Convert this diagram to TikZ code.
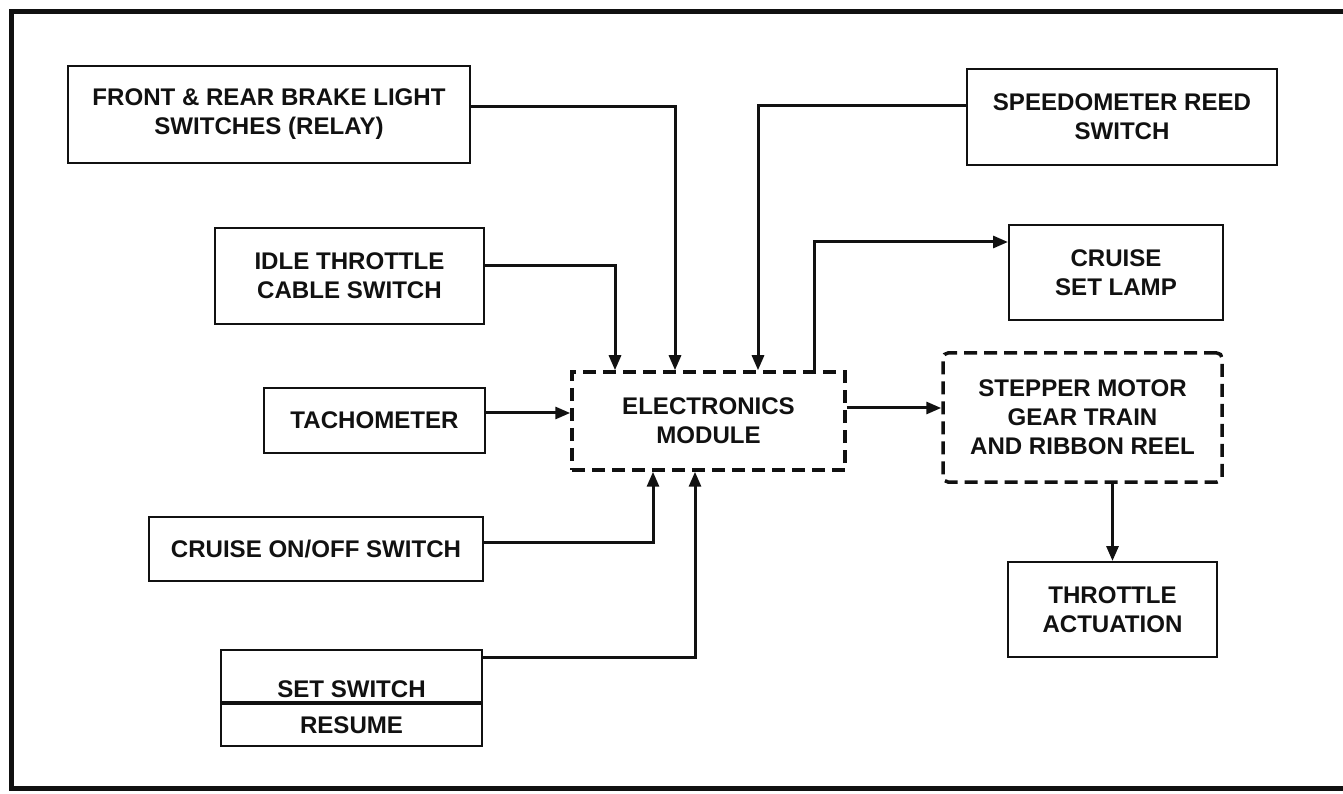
\documentclass[tikz,border=0pt]{standalone}
\usepackage{fontspec}
\setmainfont{Liberation Sans}
\definecolor{inkcol}{HTML}{111111}
\usetikzlibrary{arrows.meta,positioning}

\tikzset{
  blockbox/.style={draw=inkcol, text=inkcol, line width=0.4mm, align=center, inner sep=0pt,
    font=\bfseries\fontsize{13.7}{16.5}\selectfont},
  dashbox/.style={blockbox, line width=0.7mm, dash pattern=on 2.6mm off 1.4mm},
  wire/.style={inkcol, line width=0.6mm, -{Triangle[length=3mm,width=2.4mm]}},
}

\begin{document}
\begin{tikzpicture}
\useasboundingbox (0,0) rectangle (26.86,-15.88);

% === FRAME ===
\draw[inkcol, line width=1mm] (26.86,-0.24) -- (0.22,-0.24) -- (0.22,-15.76) -- (26.86,-15.76);

% === INPUTS ===
\node[blockbox, minimum width=8.04cm, minimum height=1.94cm] (brake) at (5.38,-2.29)
  {FRONT \& REAR BRAKE LIGHT\\SWITCHES (RELAY)};
\node[blockbox, minimum width=6.2cm, minimum height=1.92cm] (speedo) at (22.44,-2.34)
  {SPEEDOMETER REED\\SWITCH};
\node[blockbox, minimum width=5.38cm, minimum height=1.92cm] (idle) at (6.99,-5.52)
  {IDLE THROTTLE\\CABLE SWITCH};
\node[blockbox, minimum width=4.42cm, minimum height=1.3cm] (tacho) at (7.49,-8.41)
  {TACHOMETER};
\node[blockbox, minimum width=6.68cm, minimum height=1.28cm] (onoff) at (6.32,-10.98)
  {CRUISE ON/OFF SWITCH};
\node[blockbox, minimum width=5.22cm, minimum height=1.04cm, text height=0.9cm, text depth=0.06cm]
  (setsw) at (7.03,-13.52) {SET SWITCH};
\node[blockbox, minimum width=5.22cm, minimum height=0.84cm, below=0pt of setsw] (resume)
  {RESUME};

% === MODULE AND OUTPUTS ===
\node[dashbox, minimum width=5.46cm, minimum height=1.96cm] (elec) at (14.17,-8.42)
  {ELECTRONICS\\MODULE};
\node[dashbox, rounded corners=1mm, minimum width=5.58cm, minimum height=2.58cm] (stepper)
  at (21.65,-8.35) {STEPPER MOTOR\\GEAR TRAIN\\AND RIBBON REEL};
\node[blockbox, minimum width=4.28cm, minimum height=1.9cm] (lamp) at (22.32,-5.45)
  {CRUISE\\SET LAMP};
\node[blockbox, minimum width=4.18cm, minimum height=1.9cm] (throttle) at (22.25,-12.19)
  {THROTTLE\\ACTUATION};

% === CONNECTORS ===
\draw[wire] ([yshift=0.15cm]brake.east) -| ([xshift=-0.67cm]elec.north);
\draw[wire] ([yshift=0.2cm]idle.east) -| ([xshift=-1.87cm]elec.north);
\draw[wire] ([yshift=0.22cm]speedo.west) -| ([xshift=0.99cm]elec.north);
\draw[wire] ([xshift=2.11cm]elec.north) |- ([yshift=0.61cm]lamp.west);
\draw[wire] ([yshift=0.15cm]tacho.east) -- ([yshift=0.15cm]tacho.east -| elec.west);
\draw[wire] ([yshift=0.14cm]onoff.east) -| ([xshift=-1.11cm]elec.south);
\draw[wire] ([yshift=-0.17cm]setsw.north east) -| ([xshift=-0.27cm]elec.south);
\draw[wire] ([yshift=0.26cm]elec.east) -- ([yshift=0.26cm]elec.east -| stepper.west);
\draw[wire] (stepper.south -| throttle.north) -- (throttle.north);

\end{tikzpicture}
\end{document}
